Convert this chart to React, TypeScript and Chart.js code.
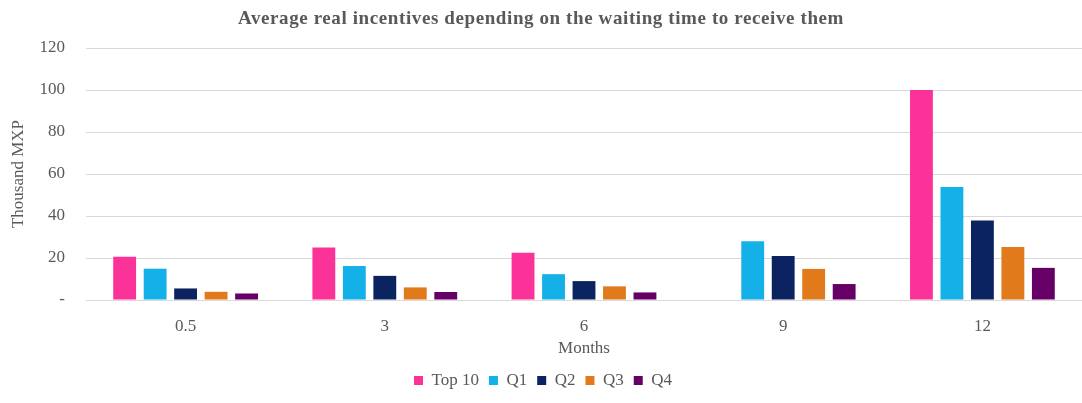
import React, { useEffect, useRef } from "react";
import { Chart, registerables } from "chart.js";

Chart.register(...registerables);

const categories = ["0.5", "3", "6", "9", "12"];
const top10 = [20.6, 25.0, 22.5, null, 100];
const q1 = [14.9, 16.2, 12.3, 28.0, 53.8];
const q2 = [5.5, 11.5, 9.0, 21.0, 37.8];
const q3 = [3.9, 6.0, 6.5, 14.8, 25.2];
const q4 = [3.1, 3.8, 3.6, 7.6, 15.3];
const seriesNames = ["Top 10", "Q1", "Q2", "Q3", "Q4"];
const seriesColors = ["#FB3298", "#14B0E8", "#0B2461", "#E07A1A", "#660066"];
const yTicks = [0, 20, 40, 60, 80, 100, 120];
const titleText = "Average real incentives depending on the waiting time to receive them";

const FONT = "'Liberation Serif', 'Times New Roman', serif";
const GREY = "#595959";

const titlePlugin = {
  id: "customTitle",
  afterDraw(chart: any) {
    const ctx = chart.ctx as CanvasRenderingContext2D;
    ctx.save();
    ctx.font = `bold 19px ${FONT}`;
    (ctx as any).letterSpacing = "0.6px";
    ctx.fillStyle = GREY;
    ctx.textAlign = "center";
    ctx.textBaseline = "alphabetic";
    ctx.fillText(titleText, 541, 24);
    ctx.restore();
  },
};

export default function App() {
  const ref = useRef<HTMLCanvasElement | null>(null);
  useEffect(() => {
    if (!ref.current) return;
    const values = [top10, q1, q2, q3, q4];
    const chart = new Chart(ref.current, {
      type: "bar",
      data: {
        labels: categories,
        datasets: seriesNames.map((name, i) => ({
          label: name,
          data: values[i] as any,
          backgroundColor: seriesColors[i],
          borderWidth: 0,
          barPercentage: 0.75,
          categoryPercentage: 0.765,
        })),
      },
      plugins: [titlePlugin],
      options: {
        responsive: false,
        animation: false,
        maintainAspectRatio: false,
        layout: { padding: { left: 0, right: -4, top: 48, bottom: 4 } },
        plugins: {
          title: { display: false },
          legend: {
            position: "bottom",
            labels: {
              color: GREY,
              font: { family: FONT, size: 17 },
              boxWidth: 9,
              boxHeight: 9,
              padding: 10,
            },
          },
          tooltip: { enabled: false },
        },
        scales: {
          x: {
            afterFit: (axis: any) => {
              axis.height = 62;
            },
            grid: { display: false, drawTicks: false },
            border: { display: false },
            ticks: { color: GREY, font: { family: FONT, size: 17 }, padding: 16 },
            title: {
              display: true,
              text: "Months",
              color: GREY,
              font: { family: FONT, size: 17 },
              padding: { top: 0, bottom: 3 },
            },
          },
          y: {
            min: 0,
            max: 120,
            afterFit: (axis: any) => {
              axis.width = 86;
            },
            afterBuildTicks: (axis: any) => {
              axis.ticks = yTicks.map((v) => ({ value: v }));
            },
            grid: { color: "#D9D9D9", lineWidth: 1, drawTicks: false },
            border: { display: false },
            ticks: {
              color: GREY,
              font: { family: FONT, size: 17 },
              padding: 21,
              callback: (v: any) => (Number(v) === 0 ? "-" : String(v)),
            },
            title: {
              display: true,
              text: "Thousand MXP",
              color: GREY,
              font: { family: FONT, size: 17 },
              padding: { top: 8, bottom: 0 },
            },
          },
        },
      },
    });
    return () => chart.destroy();
  }, []);
  return (
    <div style={{ position: "fixed", left: 0, top: 0, width: 1082, height: 403, background: "#fff" }}>
      <canvas ref={ref} width={1082} height={403} style={{ width: 1082, height: 403 }} />
    </div>
  );
}
